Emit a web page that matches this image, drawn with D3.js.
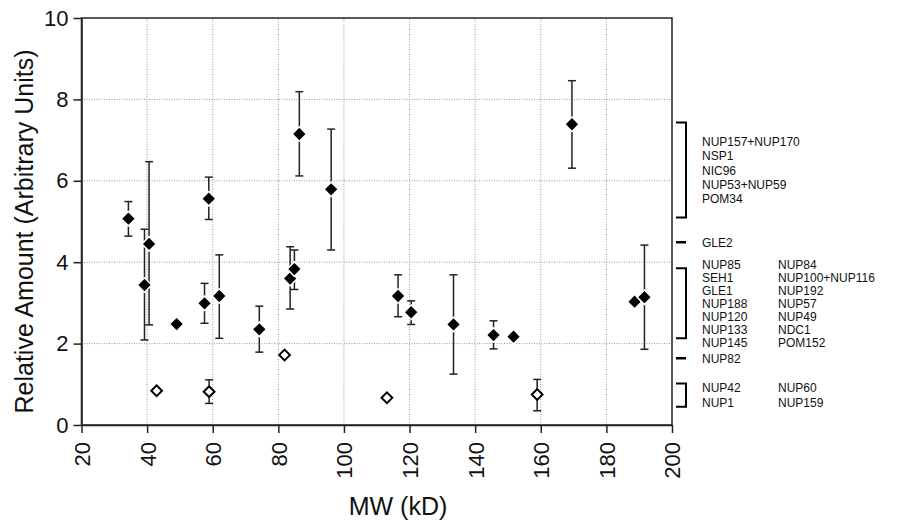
<!DOCTYPE html>
<html>
<head>
<meta charset="utf-8">
<script src="https://cdn.jsdelivr.net/npm/d3@7"></script>
<style>
  body { margin: 0; background: #fff; }
  text { font-family: "Liberation Sans", Arial, sans-serif; fill: #111; }
</style>
</head>
<body>
<svg id="chart"></svg>
<script>
// filled diamonds: MW (kD), amount, error low, error high (null = no bar)
const filledMW  = [34.3, 39.2, 40.6, 49.0, 57.5, 58.8, 62.0, 74.2, 83.6, 84.9, 86.4, 96.1, 116.5, 120.5, 133.4, 145.6, 151.7, 169.5, 188.6, 191.6];
const filledAmt = [5.07, 3.44, 4.45, 2.48, 2.99, 5.56, 3.17, 2.35, 3.60, 3.83, 7.15, 5.79, 3.17, 2.77, 2.47, 2.21, 2.17, 7.39, 3.03, 3.14];
const filledLo  = [4.64, 2.09, 2.46, null, 2.50, 5.05, 2.13, 1.79, 2.85, 3.33, 6.12, 4.30, 2.66, 2.47, 1.25, 1.87, null, 6.31, null, 1.86];
const filledHi  = [5.49, 4.81, 6.47, null, 3.48, 6.09, 4.18, 2.92, 4.38, 4.30, 8.19, 7.27, 3.69, 3.05, 3.69, 2.56, null, 8.46, null, 4.42];

// open diamonds
const openMW  = [42.9, 58.9, 81.9, 113.1, 158.9];
const openAmt = [0.84, 0.82, 1.72, 0.67, 0.75];
const openLo  = [null, 0.53, null, null, 0.35];
const openHi  = [null, 1.11, null, null, 1.12];

const xTicks = [20, 40, 60, 80, 100, 120, 140, 160, 180, 200];
const yTicks = [0, 2, 4, 6, 8, 10];

// right-hand groups (range on the y axis, two label columns)
const groupLo   = [5.10, 4.49, 2.13, 1.64, 0.45];
const groupHi   = [7.43, 4.49, 3.85, 1.64, 1.02];
const groupCol1 = [
  ["NUP157+NUP170", "NSP1", "NIC96", "NUP53+NUP59", "POM34"],
  ["GLE2"],
  ["NUP85", "SEH1", "GLE1", "NUP188", "NUP120", "NUP133", "NUP145"],
  ["NUP82"],
  ["NUP42", "NUP1"]
];
const groupCol2 = [
  [],
  [],
  ["NUP84", "NUP100+NUP116", "NUP192", "NUP57", "NUP49", "NDC1", "POM152"],
  [],
  ["NUP60", "NUP159"]
];

const width = 900, height = 524;
const margin = { top: 18, right: 228, bottom: 99, left: 81.5 };

const svg = d3.select("#chart").attr("width", width).attr("height", height);

const x = d3.scaleLinear().domain([20, 200]).range([margin.left, width - margin.right]);
const y = d3.scaleLinear().domain([0, 10]).range([height - margin.bottom, margin.top]);

// grid
svg.append("g")
  .selectAll("line")
  .data(xTicks.slice(1, -1))
  .join("line")
  .attr("x1", d => x(d)).attr("x2", d => x(d))
  .attr("y1", y(0)).attr("y2", y(10))
  .attr("stroke", "#999").attr("stroke-dasharray", "1,1.5");
svg.append("g")
  .selectAll("line")
  .data(yTicks.slice(1, -1))
  .join("line")
  .attr("y1", d => y(d)).attr("y2", d => y(d))
  .attr("x1", x(20)).attr("x2", x(200))
  .attr("stroke", "#999").attr("stroke-dasharray", "1,1.5");

// frame
svg.append("rect")
  .attr("x", x(20)).attr("y", y(10))
  .attr("width", x(200) - x(20)).attr("height", y(0) - y(10))
  .attr("fill", "none").attr("stroke", "#222").attr("stroke-width", 1.5);

// axes
const xAxis = svg.append("g")
  .attr("transform", `translate(0,${y(0)})`)
  .call(d3.axisBottom(x).tickValues(xTicks).tickSize(8).tickSizeOuter(0));
xAxis.selectAll("text")
  .attr("transform", "rotate(-90)")
  .attr("text-anchor", "end")
  .attr("x", -17).attr("y", 0).attr("dy", "0.36em")
  .style("font-size", "22px");

const yAxis = svg.append("g")
  .attr("transform", `translate(${x(20)},0)`)
  .call(d3.axisLeft(y).tickValues(yTicks).tickSize(8).tickSizeOuter(0).tickPadding(5));
yAxis.selectAll("text").style("font-size", "22px");

[xAxis, yAxis].forEach(a => {
  a.select(".domain").attr("stroke", "#222").attr("stroke-width", 1.5);
  a.selectAll(".tick line").attr("stroke", "#222").attr("stroke-width", 1.5);
  a.selectAll("text").attr("font-family", null).style("fill", "#111");
});

// axis titles
svg.append("text")
  .attr("transform", `translate(33,${(y(0) + y(10)) / 2 + 10}) rotate(-90)`)
  .attr("text-anchor", "middle")
  .style("font-size", "25px")
  .text("Relative Amount (Arbitrary Units)");
svg.append("text")
  .attr("x", 398).attr("y", 515)
  .attr("text-anchor", "middle")
  .style("font-size", "25px")
  .text("MW (kD)");

// error bars
const filled = filledMW.map((d, i) => ({ mw: d, amt: filledAmt[i], lo: filledLo[i], hi: filledHi[i] }));
const open = openMW.map((d, i) => ({ mw: d, amt: openAmt[i], lo: openLo[i], hi: openHi[i] }));
const withErr = filled.concat(open).filter(d => d.lo != null);

const eb = svg.append("g").attr("stroke", "#222").attr("stroke-width", 1.5);
eb.selectAll("line.v").data(withErr).join("line")
  .attr("x1", d => x(d.mw)).attr("x2", d => x(d.mw))
  .attr("y1", d => y(d.lo)).attr("y2", d => y(d.hi));
eb.selectAll("line.top").data(withErr).join("line")
  .attr("x1", d => x(d.mw) - 4).attr("x2", d => x(d.mw) + 4)
  .attr("y1", d => y(d.hi)).attr("y2", d => y(d.hi));
eb.selectAll("line.bot").data(withErr).join("line")
  .attr("x1", d => x(d.mw) - 4).attr("x2", d => x(d.mw) + 4)
  .attr("y1", d => y(d.lo)).attr("y2", d => y(d.lo));

// diamonds (squares turned 45°)
const sq = d3.symbol().type(d3.symbolSquare);
svg.append("g").selectAll("path").data(filled).join("path")
  .attr("d", sq.size(104)())
  .attr("transform", d => `translate(${x(d.mw)},${y(d.amt)}) rotate(45)`)
  .attr("fill", "#000").attr("stroke", "#fff").attr("stroke-width", 1.5);
svg.append("g").selectAll("path").data(open).join("path")
  .attr("d", sq.size(58)())
  .attr("transform", d => `translate(${x(d.mw)},${y(d.amt)}) rotate(45)`)
  .attr("fill", "#fff").attr("stroke", "#000").attr("stroke-width", 2);

// right-hand brackets and labels
const bx0 = x(200) + 4, bx1 = x(200) + 14;
const col1X = 702, col2X = 778;
groupLo.forEach((lo, i) => {
  const hi = groupHi[i];
  const g = svg.append("g");
  if (hi > lo) {
    g.append("path")
      .attr("d", `M${bx0},${y(hi)}H${bx1}V${y(lo)}H${bx0}`)
      .attr("fill", "none").attr("stroke", "#000").attr("stroke-width", 2);
  } else {
    g.append("line")
      .attr("x1", bx0).attr("x2", bx1).attr("y1", y(lo)).attr("y2", y(lo))
      .attr("stroke", "#000").attr("stroke-width", 2.5);
  }
  const rows = groupCol1[i].length;
  const lh = rows > 5 ? 13 : 14.3;
  const mid = (y(lo) + y(hi)) / 2;
  const first = mid - (rows - 1) * lh / 2 + 4.5;
  [groupCol1[i], groupCol2[i]].forEach((col, c) => {
    g.selectAll(null).data(col).join("text")
      .attr("x", c === 0 ? col1X : col2X)
      .attr("y", (d, k) => first + k * lh)
      .style("font-size", "12px")
      .text(d => d);
  });
});
</script>
</body>
</html>
